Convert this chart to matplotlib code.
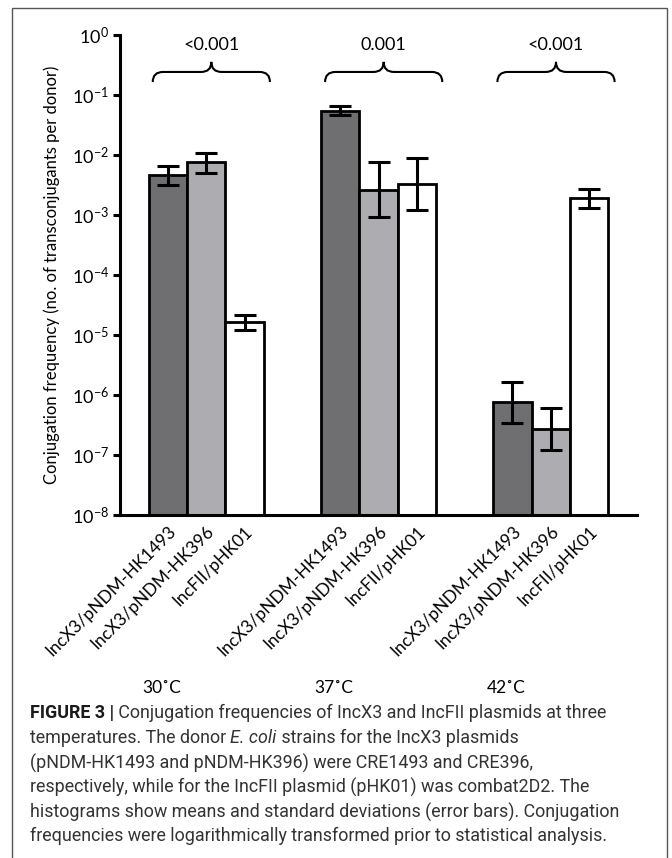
import numpy as np
import matplotlib
matplotlib.use('Agg')
import matplotlib.pyplot as plt
from matplotlib.path import Path
from matplotlib.patches import PathPatch, Rectangle
from matplotlib.transforms import blended_transform_factory

plt.rcParams['font.family'] = ['Lato', 'DejaVu Sans']
plt.rcParams['mathtext.fontset'] = 'custom'
plt.rcParams['mathtext.rm'] = 'Lato'
plt.rcParams['mathtext.it'] = 'Lato:italic'
plt.rcParams['mathtext.bf'] = 'Lato:bold'

# Datos
temperaturas = ['30˚C', '37˚C', '42˚C']
plasmidos = ['IncX3/pNDM-HK1493', 'IncX3/pNDM-HK396', 'IncFII/pHK01']
p_valores = ['<0.001', '0.001', '<0.001']

hk1493 = [4.6e-3, 5.5e-2, 7.7e-7]
hk1493_alto = [6.6e-3, 6.6e-2, 1.66e-6]
hk1493_bajo = [3.2e-3, 4.6e-2, 3.45e-7]

hk396 = [7.7e-3, 2.6e-3, 2.7e-7]
hk396_alto = [1.1e-2, 7.5e-3, 6.0e-7]
hk396_bajo = [5.1e-3, 9.2e-4, 1.2e-7]

phk01 = [1.66e-5, 3.3e-3, 1.94e-3]
phk01_alto = [2.15e-5, 9.0e-3, 2.7e-3]
phk01_bajo = [1.21e-5, 1.2e-3, 1.29e-3]

colores = ['#6f6f71', '#adadb1', '#ffffff']

fig = plt.figure(figsize=(6.72, 8.58), dpi=100)
W, H = 672, 858
ax = fig.add_axes([120 / W, 1 - 515 / H, 517 / W, 480 / H])
ax.set_yscale('log')

ancho = 0.223
grupos = np.arange(len(temperaturas))
series = [(hk1493, hk1493_alto, hk1493_bajo),
          (hk396, hk396_alto, hk396_bajo),
          (phk01, phk01_alto, phk01_bajo)]

pos_barras = []
for i, (media, alto, bajo) in enumerate(series):
    x = grupos + (i - 1) * ancho
    pos_barras.append(x)
    media = np.array(media)
    ax.bar(x, media, ancho, color=colores[i], edgecolor='black', linewidth=2, zorder=2)
    err = [media - np.array(bajo), np.array(alto) - media]
    ax.errorbar(x, media, yerr=err, fmt='none', ecolor='black', elinewidth=2.2,
                capsize=8, capthick=2.2, zorder=3)

fs_ej = 13
ax.set_xlim(-0.5, 2.5)
ax.set_ylim(1e-8, 1)
ax.set_yticks([10.0 ** k for k in range(-8, 1)])
ax.set_yticklabels([f'$10^{{{k}}}$' for k in range(-8, 1)], fontsize=fs_ej)
ax.yaxis.set_minor_locator(matplotlib.ticker.NullLocator())
ax.tick_params(axis='y', length=5, width=2.2, direction='out', pad=3)

# etiquetas de cada barra (rotadas)
xt = np.sort(np.concatenate(pos_barras))
etiquetas = [plasmidos[j] for _ in grupos for j in range(3)]
ax.set_xticks(xt)
ax.set_xticklabels(etiquetas, rotation=45, ha='right', va='top',
                   rotation_mode='anchor', fontsize=12.5)
ax.tick_params(axis='x', length=0, pad=6)

for s in ['top', 'right']:
    ax.spines[s].set_visible(False)
for s in ['left', 'bottom']:
    ax.spines[s].set_linewidth(2.2)

ax.set_ylabel('Conjugation frequency (no. of transconjugants per donor)',
              fontsize=12, labelpad=8)

# llaves con p-valores
tr = blended_transform_factory(ax.transData, ax.transAxes)
yb, yl, yp = 0.902, 0.923, 0.944
for g, p in zip(grupos, p_valores):
    x0, x1, xm = g - 0.31, g + 0.37, g + 0.03
    d = 0.06
    verts = [(x0, yb), (x0, yl), (x0 + d, yl),
             (xm - d, yl),
             (xm, yl), (xm, yp),
             (xm, yl), (xm + d, yl),
             (x1 - d, yl),
             (x1, yl), (x1, yb)]
    codes = [Path.MOVETO, Path.CURVE3, Path.CURVE3,
             Path.LINETO,
             Path.CURVE3, Path.CURVE3,
             Path.CURVE3, Path.CURVE3,
             Path.LINETO,
             Path.CURVE3, Path.CURVE3]
    ax.add_patch(PathPatch(Path(verts, codes), fill=False, lw=1.5,
                           transform=tr, clip_on=False))
    ax.text(xm, 0.979, p, transform=tr, ha='center', va='center', fontsize=fs_ej)

# temperaturas
tr2 = blended_transform_factory(ax.transData, fig.transFigure)
for g, t in zip(grupos, temperaturas):
    ax.text(g - 0.26, 1 - 688 / H, t, transform=tr2, ha='center', va='center', fontsize=12.5)

# marco
fig.patches.append(Rectangle((12 / W, -0.02), (667 - 12) / W, (H - 8) / H + 0.02,
                             transform=fig.transFigure, fill=False,
                             edgecolor='#555555', lw=1))

# pie de figura
fam = ['Roboto', 'DejaVu Sans']
fs = 12.9
lineas_y = [713, 738, 763, 787, 812, 836]
x0 = 30 / W
t = fig.text(x0, 1 - lineas_y[0] / H, 'FIGURE 3 |', fontsize=fs, fontweight='bold',
             family=fam, va='center', color='#1a1a1a')
plt.annotate(' Conjugation frequencies of IncX3 and IncFII plasmids at three',
             xy=(1, 0), xycoords=t, va='bottom', fontsize=fs, family=fam, color='#333333')
t2 = fig.text(x0, 1 - lineas_y[1] / H, 'temperatures. The donor ', fontsize=fs,
              family=fam, va='center', color='#333333')
t3 = plt.annotate('E. coli', xy=(1, 0), xycoords=t2, va='bottom', fontsize=fs,
                  family=fam, style='italic', color='#333333')
plt.annotate(' strains for the IncX3 plasmids', xy=(1, 0), xycoords=t3, va='bottom',
             fontsize=fs, family=fam, color='#333333')
resto = ['(pNDM-HK1493 and pNDM-HK396) were CRE1493 and CRE396,',
         'respectively, while for the IncFII plasmid (pHK01) was combat2D2. The',
         'histograms show means and standard deviations (error bars). Conjugation',
         'frequencies were logarithmically transformed prior to statistical analysis.']
for yy, linea in zip(lineas_y[2:], resto):
    fig.text(x0, 1 - yy / H, linea, fontsize=fs, family=fam, va='center', color='#333333')

fig.savefig('out.png', dpi=100)
